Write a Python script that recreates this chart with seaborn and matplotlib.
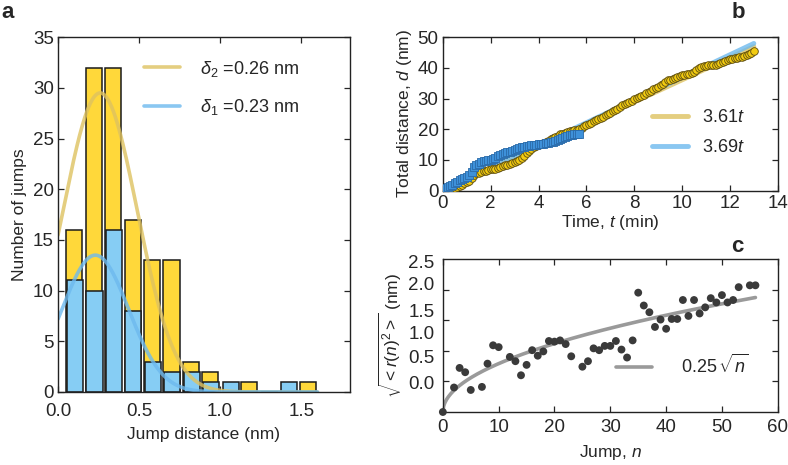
# Jump statistics figure: histogram (a), total distance (b), rms displacement (c)
import numpy as np
import pandas as pd
import matplotlib
matplotlib.use("Agg")
import matplotlib.pyplot as plt
import seaborn as sns

sns.set_style("ticks")
plt.rcParams['font.family'] = ['Liberation Sans', 'DejaVu Sans']
plt.rcParams['mathtext.fontset'] = 'custom'
plt.rcParams['mathtext.rm'] = 'Liberation Sans'
plt.rcParams['mathtext.it'] = 'Liberation Sans:italic'
plt.rcParams['mathtext.bf'] = 'Liberation Sans:bold'

# -------------------------------------
# Data
# -------------------------------------

# panel a: histogram bins (centre, count)
yellow_centers = [0.10, 0.22, 0.34, 0.46, 0.58, 0.70, 0.82, 0.94, 1.18, 1.54]
yellow_counts = [16, 32, 32, 17, 13, 13, 3, 2, 1, 1]
blue_centers = [0.105, 0.225, 0.345, 0.465, 0.585, 0.705, 0.825, 0.945, 1.065, 1.425]
blue_counts = [11, 10, 16, 8, 3, 2, 2, 1, 1, 1]

# gaussian fits (amplitude, centre, width)
yellow_fit = (29.5, 0.26, 0.229)
blue_fit = (13.5, 0.23, 0.205)

# panel b: total distance vs time
yellow_t = [0.0, 0.1, 0.2, 0.3, 0.4, 0.5, 0.6, 0.7, 0.8, 0.9,
            1.0, 1.1, 1.2, 1.3, 1.4, 1.5, 1.6, 1.7, 1.8, 1.9,
            2.0, 2.1, 2.2, 2.3, 2.4, 2.5, 2.6, 2.7, 2.8, 2.9,
            3.0, 3.1, 3.2, 3.3, 3.4, 3.5, 3.6, 3.7, 3.8, 3.9,
            4.0, 4.1, 4.2, 4.3, 4.4, 4.5, 4.6, 4.7, 4.8, 4.9,
            5.0, 5.1, 5.2, 5.3, 5.4, 5.5, 5.6, 5.7, 5.8, 5.9,
            6.0, 6.1, 6.2, 6.3, 6.4, 6.5, 6.6, 6.7, 6.8, 6.9,
            7.0, 7.1, 7.2, 7.3, 7.4, 7.5, 7.6, 7.7, 7.8, 7.9,
            8.0, 8.1, 8.2, 8.3, 8.4, 8.5, 8.6, 8.7, 8.8, 8.9,
            9.0, 9.1, 9.2, 9.3, 9.4, 9.5, 9.6, 9.7, 9.8, 9.9,
            10.0, 10.1, 10.2, 10.3, 10.4, 10.5, 10.6, 10.7, 10.8, 10.9,
            11.0, 11.1, 11.2, 11.3, 11.4, 11.5, 11.6, 11.7, 11.8, 11.9,
            12.0, 12.1, 12.2, 12.3, 12.4, 12.5, 12.6, 12.7, 12.8, 12.9,
            13.0]
yellow_d = [0.0, 0.2, 0.4, 0.5, 0.7, 0.9, 1.2, 1.6, 2.0, 2.4,
            2.8, 3.3, 4.0, 5.2, 5.6, 5.9, 6.1, 6.3, 6.4, 6.6,
            6.9, 7.1, 7.2, 7.4, 7.7, 8.0, 8.2, 8.4, 8.6, 8.9,
            9.2, 9.6, 10.0, 10.6, 11.4, 12.2, 12.9, 13.5, 14.1, 14.6,
            15.0, 15.3, 15.6, 15.9, 16.3, 16.7, 17.1, 17.5, 17.9, 18.3,
            18.6, 18.9, 19.1, 19.3, 19.5, 19.7, 19.9, 20.1, 20.5, 21.0,
            21.4, 21.8, 22.2, 22.6, 23.0, 23.4, 23.7, 24.1, 24.5, 25.0,
            25.4, 25.8, 26.2, 26.7, 27.3, 27.9, 28.3, 28.6, 28.9, 29.3,
            29.8, 30.2, 30.6, 31.0, 31.3, 31.7, 32.1, 32.5, 33.0, 33.4,
            33.8, 34.3, 34.9, 35.4, 35.9, 36.2, 36.5, 36.8, 37.1, 37.4,
            37.6, 37.7, 37.9, 38.1, 38.4, 38.8, 39.3, 39.9, 40.4, 40.6,
            40.7, 40.8, 40.9, 41.0, 41.1, 41.3, 41.6, 42.0, 42.4, 42.7,
            42.8, 43.0, 43.1, 43.2, 43.4, 43.6, 43.8, 44.1, 44.5, 45.0,
            45.6]
blue_t = [0.0, 0.1, 0.2, 0.3, 0.4, 0.5, 0.6, 0.7, 0.8, 0.9,
          1.0, 1.1, 1.2, 1.3, 1.4, 1.5, 1.6, 1.7, 1.8, 1.9,
          2.0, 2.1, 2.2, 2.3, 2.4, 2.5, 2.6, 2.7, 2.8, 2.9,
          3.0, 3.1, 3.2, 3.3, 3.4, 3.5, 3.6, 3.7, 3.8, 3.9,
          4.0, 4.1, 4.2, 4.3, 4.4, 4.5, 4.6, 4.7, 4.8, 4.9,
          5.0, 5.1, 5.2, 5.3, 5.4, 5.5, 5.6, 5.7]
blue_d = [0.3, 0.8, 1.2, 1.5, 1.9, 2.4, 2.9, 3.4, 3.8, 4.1,
          4.4, 5.0, 6.0, 7.6, 8.3, 8.8, 9.2, 9.5, 9.7, 9.9,
          10.1, 10.4, 10.8, 11.2, 11.6, 12.0, 12.3, 12.5, 12.7, 12.9,
          13.2, 13.5, 13.8, 14.1, 14.3, 14.5, 14.7, 14.8, 14.9, 15.0,
          15.1, 15.2, 15.3, 15.5, 15.6, 15.8, 16.0, 16.2, 16.5, 16.8,
          17.1, 17.4, 17.7, 18.0, 18.2, 18.3, 18.4, 18.5]
yellow_slope = 3.61
blue_slope = 3.69
fit_t_end = 13.0

# panel c: rms displacement vs jump number
jump_n = [0, 2, 3, 4, 5, 7, 8, 9, 10, 12, 13, 14, 15, 16, 17, 18, 19, 20,
          21, 22, 23, 25, 26, 27, 28, 29, 30, 31, 32, 33, 34, 35, 36, 37,
          38, 39, 40, 41, 42, 43, 44, 45, 46, 47, 48, 49, 50, 51, 52, 53,
          55, 56]
rms_r = [0.0, 0.40, 0.72, 0.65, 0.36, 0.41, 0.79, 1.09, 1.06, 0.90, 0.83,
         0.60, 0.77, 1.01, 0.92, 0.99, 1.16, 1.15, 1.17, 1.11, 0.91, 0.74,
         0.83, 1.04, 1.01, 1.08, 1.08, 1.16, 1.02, 0.89, 1.17, 1.95, 1.74,
         1.63, 1.39, 1.51, 1.36, 1.52, 1.52, 1.83, 1.57, 1.83, 1.61, 1.71,
         1.86, 1.79, 1.91, 1.79, 1.83, 2.04, 2.07, 2.07]
sqrt_coef = 0.25

# tick labels of panel c sit off the tick marks in the original
c_label_pos = [0.49, 0.90, 1.30, 1.66, 2.10, 2.46]
c_labels = ['0.0', '0.5', '1.0', '1.5', '2.0', '2.5']

# -------------------------------------
# Colours
# -------------------------------------

bar_yellow = '#FFD83A'
bar_blue = '#86CDF4'
line_yellow = '#DEC260'
line_blue = '#6DB9EE'
dot_yellow = '#F2CB10'
dot_blue = '#3E91DA'

TICK_FS = 13.5
LABEL_FS = 12.5
LEG_FS = 13


def style_axes(ax):
    ax.tick_params(direction='in', top=True, right=True, length=4,
                   width=0.9, labelsize=TICK_FS, pad=3)
    for s in ax.spines.values():
        s.set_linewidth(1.0)
        s.set_color('#222222')


fig = plt.figure(figsize=(7.88, 4.65), dpi=100)

# -------------------------------------
# Panel a
# -------------------------------------

ax_a = fig.add_axes([0.0736, 0.157, 0.3704, 0.763])

df_y = pd.DataFrame({'x': yellow_centers, 'w': yellow_counts})
df_b = pd.DataFrame({'x': blue_centers, 'w': blue_counts})
sns.histplot(data=df_y, x='x', weights='w', binwidth=0.12, binrange=(0.04, 1.60),
             shrink=0.83, color=bar_yellow, alpha=1, edgecolor='#1a1a1a',
             linewidth=1.1, ax=ax_a)
sns.histplot(data=df_b, x='x', weights='w', binwidth=0.12, binrange=(0.045, 1.605),
             shrink=0.83, color=bar_blue, alpha=1, edgecolor='#1a1a1a',
             linewidth=1.1, ax=ax_a)

xs = np.linspace(0, 1.6, 300)
for (amp, mu, sig), col, lab in [(yellow_fit, line_yellow, r'$\delta_2$ =0.26 nm'),
                                 (blue_fit, line_blue, r'$\delta_1$ =0.23 nm')]:
    ys = amp * np.exp(-(xs - mu) ** 2 / (2 * sig ** 2))
    sns.lineplot(x=xs, y=ys, color=col, lw=2.6, alpha=0.8, label=lab, ax=ax_a)

ax_a.set_xlim(0, 1.8)
ax_a.set_ylim(0, 35)
ax_a.set_xticks([0.0, 0.5, 1.0, 1.5])
ax_a.set_xticklabels(['0.0', '0.5', '1.0', '1.5'])
ax_a.set_yticks(range(0, 36, 5))
ax_a.set_xlabel("Jump distance (nm)", fontsize=LABEL_FS, labelpad=5)
ax_a.set_ylabel("Number of jumps", fontsize=LABEL_FS, labelpad=4)
style_axes(ax_a)
ax_a.tick_params(axis='x', pad=8)
ax_a.legend(loc='upper right', bbox_to_anchor=(0.88, 0.985), frameon=False,
            fontsize=LEG_FS, handlelength=2.0, labelspacing=1.0, handletextpad=1.1)

# -------------------------------------
# Panel b
# -------------------------------------

ax_b = fig.add_axes([0.562, 0.590, 0.425, 0.330])

tt = np.array([0, fit_t_end])
sns.lineplot(x=tt, y=yellow_slope * tt, color=line_yellow, lw=3.5, alpha=0.8,
             label=r'3.61$t$', ax=ax_b)
sns.lineplot(x=tt, y=blue_slope * tt, color=line_blue, lw=3.5, alpha=0.8,
             label=r'3.69$t$', ax=ax_b)
sns.scatterplot(x=yellow_t, y=yellow_d, marker='o', s=30, color=dot_yellow,
                edgecolor='#5a4a10', linewidth=0.6, ax=ax_b, zorder=3)
sns.scatterplot(x=blue_t, y=blue_d, marker='s', s=30, color=dot_blue,
                edgecolor='#2a6aa8', linewidth=0.6, ax=ax_b, zorder=3)

ax_b.set_xlim(0, 14)
ax_b.set_ylim(0, 50)
ax_b.set_xticks(range(0, 15, 2))
ax_b.set_yticks(range(0, 51, 10))
ax_b.set_xlabel(r"Time, $t$ (min)", fontsize=LABEL_FS, labelpad=1)
ax_b.set_ylabel(r"Total distance, $d$ (nm)", fontsize=LABEL_FS, labelpad=3)
style_axes(ax_b)
h, l = ax_b.get_legend_handles_labels()
ax_b.legend(h[:2], l[:2], loc='lower right', bbox_to_anchor=(0.95, 0.12),
            frameon=False, fontsize=LEG_FS, handlelength=2.0, labelspacing=0.7,
            handletextpad=0.8)

# -------------------------------------
# Panel c
# -------------------------------------

ax_c = fig.add_axes([0.562, 0.114, 0.425, 0.329])

nn = np.linspace(0, 56, 400)
sns.lineplot(x=nn, y=sqrt_coef * np.sqrt(nn), color='#9a9a9a', lw=2.6,
             label=r'0.25$\,\sqrt{n}$', ax=ax_c)
sns.scatterplot(x=jump_n, y=rms_r, color='#3a3a3a', s=32, edgecolor='none',
                ax=ax_c, zorder=3, clip_on=False)

ax_c.set_xlim(0, 60)
ax_c.set_ylim(0, 2.5)
ax_c.set_xticks(range(0, 61, 10))
ax_c.set_yticks(c_label_pos)
ax_c.set_yticklabels(c_labels)
ax_c.set_yticks([0.5, 1.0, 1.5, 2.0], minor=True)
style_axes(ax_c)
ax_c.tick_params(axis='y', which='major', length=0, pad=6)
ax_c.tick_params(axis='y', which='minor', direction='in', left=True,
                 right=True, length=4, width=0.9)
ax_c.tick_params(axis='x', pad=5)
ax_c.set_xlabel(r"Jump, $n$", fontsize=LABEL_FS, labelpad=5)
ax_c.set_ylabel(r"$\sqrt{<r(n)^2>}$ (nm)", fontsize=LABEL_FS, labelpad=3)
ax_c.legend(loc='lower right', bbox_to_anchor=(0.96, 0.12), frameon=False,
            fontsize=LEG_FS, handlelength=2.0, handletextpad=1.6)

# panel letters
fig.text(0.002, 0.962, 'a', fontsize=16, fontweight='bold')
fig.text(0.928, 0.962, 'b', fontsize=16, fontweight='bold')
fig.text(0.928, 0.458, 'c', fontsize=16, fontweight='bold')

fig.savefig("out.png", dpi=100)
